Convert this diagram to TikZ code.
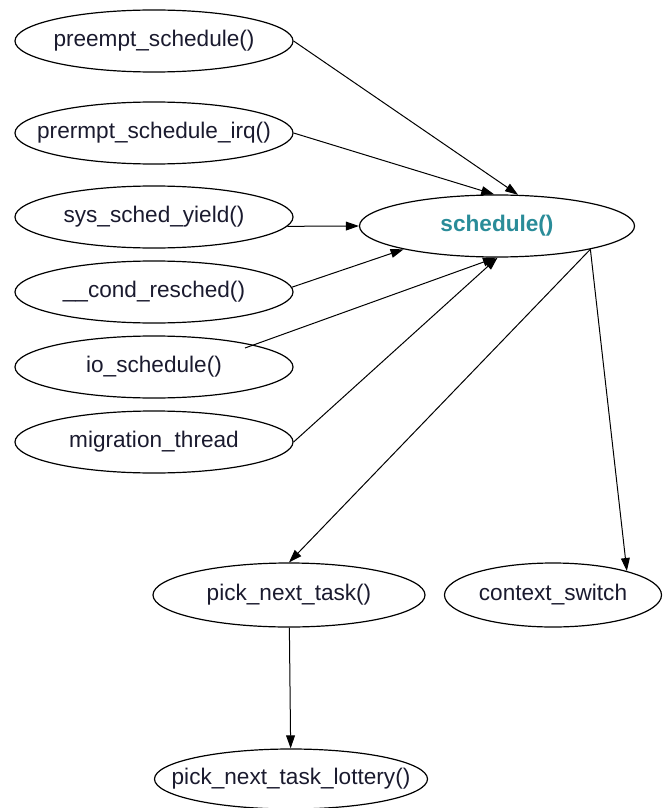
\documentclass[tikz,border=0pt]{standalone}
\usepackage{fontspec}
\setmainfont{Liberation Sans}
\usetikzlibrary{positioning,arrows.meta,shapes.geometric,calc}
\definecolor{schedteal}{HTML}{2A8C99}
\definecolor{inkfn}{HTML}{1A1A2E}
\tikzset{
  kf/.style={ellipse, draw=black, line width=0.6pt, inner sep=0pt, minimum height=31pt,
             text=inkfn, font=\fontsize{11.3}{13}\selectfont,
             execute at begin node={\hbox to 0pt\bgroup\hss},
             execute at end node={\hss\egroup}},
  kf side/.style={kf, minimum width=139pt},
  kf main/.style={kf, minimum width=137.5pt, text=schedteal, font=\fontsize{11.3}{13}\selectfont\bfseries},
  kf arr/.style={-{Triangle[length=6.5pt, width=4.4pt]}, line width=0.5pt},
}
\begin{document}
\begin{tikzpicture}[x=0.5pt, y=-0.5pt]
  \useasboundingbox (0,0) rectangle (671,808);
  % callers of schedule()
  \node[kf side] (pre)    at (154,41)  {preempt\_schedule()};
  \node[kf side] (preirq) at (154,133) {prermpt\_schedule\_irq()};
  \node[kf side] (yld)    at (154,217) {sys\_sched\_yield()};
  \node[kf side] (cres)   at (154,292) {\_\_cond\_resched()};
  \node[kf side] (ios)    at (154,367) {io\_schedule()};
  \node[kf side] (mig)    at (154,442) {migration\_thread};
  % the scheduler and what it calls
  \node[kf main] (sch) at (497,226) {schedule()};
  \node[kf, minimum width=136pt, minimum height=32pt] (pnt) at (289,595) {pick\_next\_task()};
  \node[kf, minimum width=108.5pt, minimum height=32pt] (ctx) at (553,595) {context\_switch};
  \node[kf, minimum width=136.5pt, minimum height=30pt] (pntl) at (291,779) {pick\_next\_task\_lottery()};
  \coordinate (iostart) at ($(ios.center)+(91,-19)$);
  \draw[kf arr] (pre.east) -- (sch.56);
  \draw[kf arr] (preirq.east) -- (sch.95);
  \draw[kf arr] (yld.-4) -- (sch.west);
  \draw[kf arr] (cres.2) -- (sch.194);
  \draw[kf arr] (iostart) -- (sch.268);
  \draw[kf arr] (mig.east) -- (sch.271);
  \foreach \n/\a in {pnt/north,ctx/18} \draw[kf arr] (sch.-14) -- (\n.\a);
  \draw[kf arr] (pnt) -- (pntl);
\end{tikzpicture}
\end{document}
